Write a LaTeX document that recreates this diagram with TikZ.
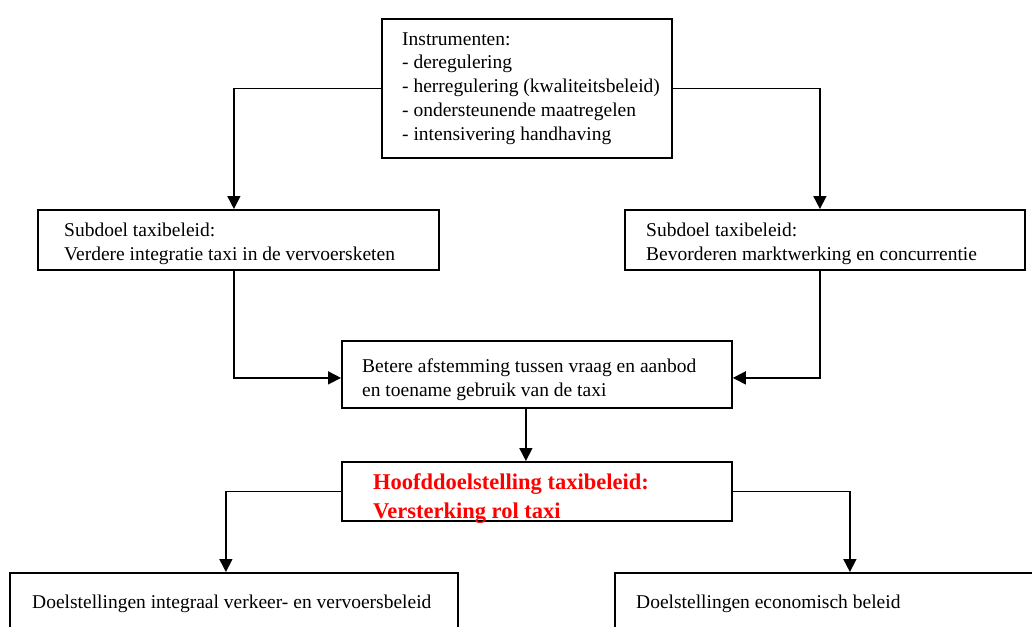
\documentclass[tikz,border=0pt]{standalone}
\usepackage{fontspec}
\setmainfont{Liberation Serif}
\usetikzlibrary{arrows.meta}
\definecolor{hred}{RGB}{255,0,0}
\begin{document}
\begin{tikzpicture}[x=1pt,y=-1pt,
  box/.style={draw,line width=1.8pt,inner sep=0pt,anchor=north west},
  txt/.style={inner sep=0pt,anchor=base west,align=left,font=\fontsize{19.5}{23.75}\selectfont},
  redtxt/.style={txt,text=hred,font=\fontsize{22.5}{29}\selectfont\bfseries},
  conn/.style={line width=1.6pt,-{Triangle[length=13pt,width=13pt]}}]
\useasboundingbox (0,0) rectangle (1032,626);
% boxes
\node[box,minimum width=290pt,minimum height=139pt] (top) at (381,18) {};
\node[box,minimum width=401pt,minimum height=60pt] (ls) at (37,209) {};
\node[box,minimum width=400pt,minimum height=60pt] (rs) at (624,209) {};
\node[box,minimum width=390pt,minimum height=67pt] (mid) at (341,340) {};
\node[box,minimum width=390pt,minimum height=59pt] (red) at (341,461) {};
\node[box,minimum width=448pt,minimum height=80pt] (bl) at (9,572) {};
\node[box,minimum width=470pt,minimum height=80pt] (br) at (614,572) {};
% texts (anchored at the baseline of the last line)
\node[txt] (ttop) at (402,140) {Instrumenten:\\- deregulering\\- herregulering (kwaliteitsbeleid)\\- ondersteunende maatregelen\\- intensivering handhaving};
\node[txt] (tls) at (64,260) {Subdoel taxibeleid:\\Verdere integratie taxi in de vervoersketen};
\node[txt] (trs) at (646,260) {Subdoel taxibeleid:\\Bevorderen marktwerking en concurrentie};
\node[txt] (tmid) at (362,396) {Betere afstemming tussen vraag en aanbod\\en toename gebruik van de taxi};
\node[redtxt] (tred) at (373,518) {Hoofddoelstelling taxibeleid:\\Versterking rol taxi};
\node[txt] (tbl) at (32,608) {Doelstellingen integraal verkeer- en vervoersbeleid};
\node[txt] (tbr) at (636,608) {Doelstellingen economisch beleid};
% connectors
\draw[conn] (top.west) -| ([xshift=-4.5pt]ls.north);
\draw[conn] (top.east) -| ([xshift=-5pt]rs.north);
\draw[conn] ([xshift=-4.5pt]ls.south) |- ([yshift=-3.5pt]mid.west);
\draw[conn] ([xshift=-5pt]rs.south) |- ([yshift=-3.5pt]mid.east);
\draw[conn] ([xshift=-11pt]mid.south) -- ([xshift=-11pt]red.north);
\draw[conn] (red.west) -| ([xshift=-8pt]bl.north);
\draw[conn] (red.east) -| ([xshift=0pt]br.north);
\end{tikzpicture}
\end{document}
